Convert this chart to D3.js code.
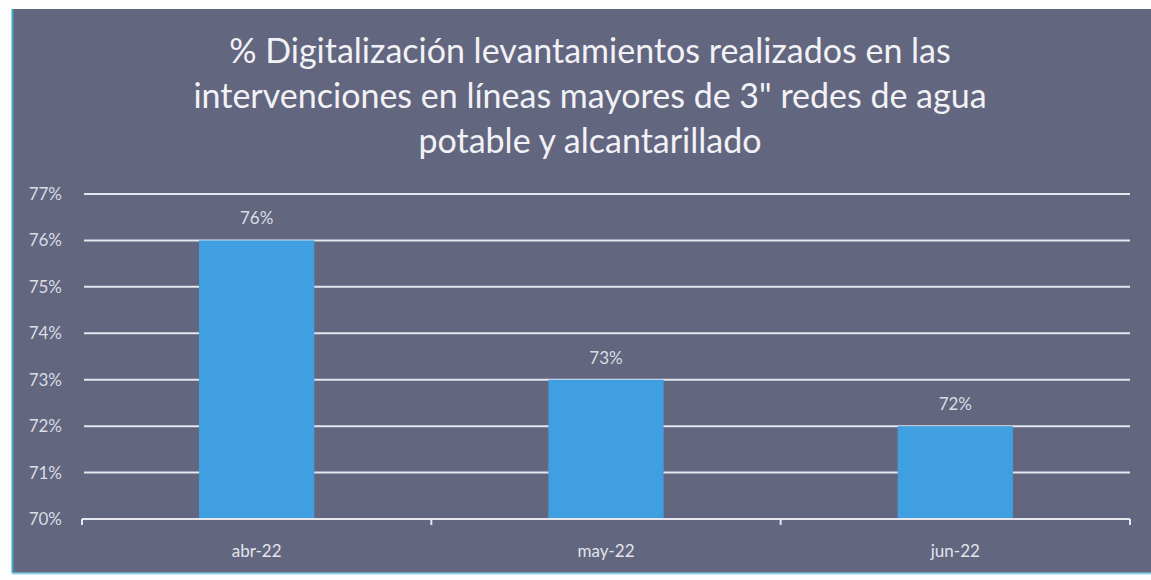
<!DOCTYPE html>
<html>
<head>
<meta charset="utf-8">
<script src="https://cdn.jsdelivr.net/npm/d3@7"></script>
<style>
  html, body { margin: 0; padding: 0; background: #fdfdfd; }
  svg { display: block; }
</style>
</head>
<body>
<div id="chart"></div>
<script>
// data
let months = ["abr-22", "may-22", "jun-22"];
let values = [76, 73, 72];
let yTicks = [70, 71, 72, 73, 74, 75, 76, 77];
let titleLines = [
  "% Digitalización levantamientos realizados en las",
  "intervenciones en líneas mayores de 3\" redes de agua",
  "potable y alcantarillado"
];

const width = 1151;
const height = 580;
const font = "Lato, 'Open Sans', sans-serif";

let svg = d3.select("#chart")
  .append("svg")
    .attr("width", width)
    .attr("height", height);

// panel
svg.append("rect")
  .attr("x", 12).attr("y", 9)
  .attr("width", width - 12).attr("height", 564)
  .attr("fill", "#62667f");
svg.append("line")
  .attr("x1", 12.5).attr("x2", 12.5).attr("y1", 9).attr("y2", 573)
  .attr("stroke", "#3fa9c4").attr("stroke-width", 2);
svg.append("line")
  .attr("x1", 12).attr("x2", width).attr("y1", 573.5).attr("y2", 573.5)
  .attr("stroke", "#8fd3e8").attr("stroke-width", 2);

// title
svg.append("text")
  .attr("text-anchor", "middle")
  .attr("fill", "#f2f2f6")
  .style("font-family", font)
  .style("font-size", "34px")
  .selectAll("tspan")
  .data(titleLines)
  .enter()
  .append("tspan")
    .attr("x", 590)
    .attr("y", (d, i) => 63 + i * 45)
    .text(d => d);

let margin = {left: 82, right: 21, top: 194, bottom: 61};

let x = d3.scaleBand()
  .domain(months)
  .range([margin.left, width - margin.right])
  .paddingInner(0.67)
  .paddingOuter(0.335);

let y = d3.scaleLinear()
  .domain([70, 77])
  .range([height - margin.bottom, margin.top]);

// gridlines
svg.append("g")
  .selectAll("line")
  .data(yTicks.filter(d => d > 70))
  .enter()
  .append("line")
    .attr("x1", margin.left + 2)
    .attr("x2", width - margin.right)
    .attr("y1", d => y(d))
    .attr("y2", d => y(d))
    .attr("stroke", "#e6e6ee")
    .attr("stroke-width", 2);

// y labels
svg.append("g")
  .selectAll("text")
  .data(yTicks)
  .enter()
  .append("text")
    .attr("x", 62)
    .attr("y", d => y(d) + 6)
    .attr("text-anchor", "end")
    .attr("fill", "#dcdce4")
    .style("font-family", font)
    .style("font-size", "17px")
    .text(d => d + "%");

// bars
svg.append("g")
  .selectAll("rect")
  .data(values)
  .enter()
  .append("rect")
    .attr("x", (d, i) => x(months[i]))
    .attr("y", d => y(d))
    .attr("width", x.bandwidth())
    .attr("height", d => y(70) - y(d))
    .attr("fill", "#3f9fe0");

// value labels
svg.append("g")
  .selectAll("text")
  .data(values)
  .enter()
  .append("text")
    .attr("x", (d, i) => x(months[i]) + x.bandwidth() / 2)
    .attr("y", d => y(d) - 16)
    .attr("text-anchor", "middle")
    .attr("fill", "#dcdce4")
    .style("font-family", font)
    .style("font-size", "17px")
    .text(d => d + "%");

// x axis
let xAxis = svg.append("g")
  .attr("transform", "translate(0," + y(70) + ")");
let step = x.step();
let tickPos = d3.range(months.length + 1).map(i => margin.left + i * step);
xAxis.append("line")
  .attr("x1", margin.left).attr("x2", width - margin.right)
  .attr("stroke", "#e6e6ee").attr("stroke-width", 2);
xAxis.selectAll(".tick")
  .data(tickPos)
  .enter()
  .append("line")
    .attr("x1", d => d).attr("x2", d => d)
    .attr("y1", 0).attr("y2", 6)
    .attr("stroke", "#e6e6ee").attr("stroke-width", 2);
xAxis.selectAll("text")
  .data(months)
  .enter()
  .append("text")
    .attr("x", d => x(d) + x.bandwidth() / 2)
    .attr("y", 38)
    .attr("text-anchor", "middle")
    .attr("fill", "#e4e4ec")
    .style("font-family", font)
    .style("font-size", "17px")
    .text(d => d);
</script>
</body>
</html>
